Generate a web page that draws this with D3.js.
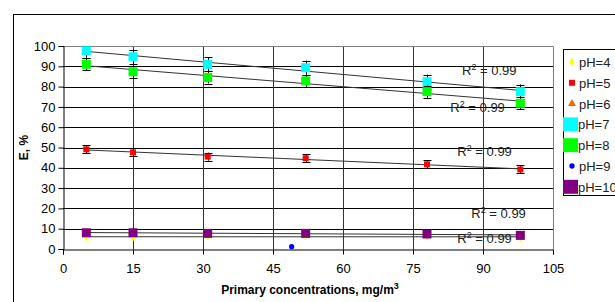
<!DOCTYPE html>
<meta charset="utf-8">
<title>E vs primary concentration</title>
<style>
body { margin: 0; background: #fff; }
svg { display: block; font-family: "Liberation Sans", Arial, sans-serif; }
.tick text { font-size: 13px; fill: #000; }
.lbl { font-size: 13px; fill: #222; }
</style>
<svg width="615" height="302"></svg>
<script src="https://cdn.jsdelivr.net/npm/d3@7/dist/d3.min.js"></script>
<script>

// concentrations (x) shared by all series
var conc = [5, 15, 31, 52, 78, 98];

// E, % for each pH
var ph4 = [5.8, 5.8, 6.3, 6.4, 6.2, 5.6];
var ph5 = [49.1, 47.6, 45.5, 44.7, 41.7, 39.2];
var ph6 = [7.9, 7.9, 7.6, 7.6, 7.3, 6.7];
var ph7 = [97.7, 94.7, 91.0, 89.3, 82.4, 77.5];
var ph8 = [91.0, 87.3, 84.5, 82.8, 77.5, 71.8];
var ph9x = [49];
var ph9 = [1.1];
var ph10 = [8.0, 8.0, 7.7, 7.7, 7.4, 6.7];

// error bar half-widths
var err5 = 2, err7 = 3.5, err8 = 3;

var xTicks = [0, 15, 30, 45, 60, 75, 90, 105];
var yTicks = [0, 10, 20, 30, 40, 50, 60, 70, 80, 90, 100];
var legendNames = ["pH=4", "pH=5", "pH=6", "pH=7", "pH=8", "pH=9", "pH=10"];
// where the R² labels sit, in data units
var r2Pos = [[85.5, 85.7], [83, 67.5], [84.5, 45.8], [87.5, 15.4], [84.5, 3]];

var svg = d3.select("svg");

var x = d3.scaleLinear().domain([0, 105]).range([63, 553]);
var y = d3.scaleLinear().domain([0, 100]).range([249, 46]);

// outer chart frame (runs off the page right and bottom)
svg.append("rect")
  .attr("x", 13.5).attr("y", 14.5)
  .attr("width", 700).attr("height", 400)
  .attr("fill", "none").attr("stroke", "#000");

// grid
svg.append("g").selectAll("line")
  .data(yTicks.slice(1))
  .enter().append("line")
  .attr("x1", x(0)).attr("x2", x(105))
  .attr("y1", function(d) { return Math.round(y(d)) + 0.5; })
  .attr("y2", function(d) { return Math.round(y(d)) + 0.5; })
  .attr("stroke", "#000");

svg.append("g").selectAll("line")
  .data(xTicks.slice(1, -1))
  .enter().append("line")
  .attr("x1", function(d) { return Math.round(x(d)) + 0.5; })
  .attr("x2", function(d) { return Math.round(x(d)) + 0.5; })
  .attr("y1", y(0)).attr("y2", y(100))
  .attr("stroke", "#333");

// plot border top and right (gray)
svg.append("path")
  .attr("d", "M" + (x(0)) + "," + (Math.round(y(100)) + 0.5) + "H" + (Math.round(x(105)) + 0.5) + "V" + y(0))
  .attr("fill", "none").attr("stroke", "#808080");

// axes
svg.append("g")
  .attr("transform", "translate(0," + (Math.round(y(0)) + 0.5) + ")")
  .call(d3.axisBottom(x).tickValues(xTicks).tickSize(5).tickPadding(9).tickFormat(d3.format("d")))
  .call(function(g) { g.selectAll("line,path").attr("stroke", "#000"); });

svg.append("g")
  .attr("transform", "translate(" + (Math.round(x(0)) + 0.5) + ",0)")
  .call(d3.axisLeft(y).tickValues(yTicks).tickSize(5).tickPadding(3).tickFormat(d3.format("d")))
  .call(function(g) { g.selectAll("line,path").attr("stroke", "#000"); });

svg.append("text")
  .attr("transform", "translate(28," + y(50) + ") rotate(-90)")
  .attr("text-anchor", "middle")
  .attr("font-size", 12).attr("font-weight", "bold")
  .text("E, %");

var xt = svg.append("text")
  .attr("x", 310).attr("y", 294)
  .attr("text-anchor", "middle")
  .attr("font-size", 12).attr("font-weight", "bold")
  .text("Primary concentrations, mg/m");
xt.append("tspan").attr("dy", -5).attr("font-size", 9).text("3");

// linear trendlines
function trend(xs, ys) {
  var mx = d3.mean(xs), my = d3.mean(ys);
  var sxy = d3.sum(xs, function(v, i) { return (v - mx) * (ys[i] - my); });
  var sxx = d3.sum(xs, function(v) { return (v - mx) * (v - mx); });
  var b = sxy / sxx, a = my - b * mx;
  var x0 = d3.min(xs), x1 = d3.max(xs);
  return [[x0, a + b * x0], [x1, a + b * x1]];
}
var line = d3.line().x(function(d) { return x(d[0]); }).y(function(d) { return y(d[1]); });
[ph7, ph8, ph5, ph10, ph4].forEach(function(s) {
  svg.append("path")
    .attr("d", line(trend(conc, s)))
    .attr("fill", "none").attr("stroke", "#333").attr("stroke-width", 1);
});

// error bars
function errbars(s, e) {
  var g = svg.append("g").attr("stroke", "#000");
  s.forEach(function(v, i) {
    var cx = Math.round(x(conc[i])) + 0.5;
    var top = Math.min(v + e, 100);
    g.append("line").attr("x1", cx).attr("x2", cx).attr("y1", y(top)).attr("y2", y(v - e));
    [top, v - e].forEach(function(t) {
      g.append("line").attr("x1", cx - 4).attr("x2", cx + 4).attr("y1", Math.round(y(t)) + 0.5).attr("y2", Math.round(y(t)) + 0.5);
    });
  });
}

// markers
var sym = {
  diamond: d3.symbol().type(d3.symbolDiamond).size(22),
  triangle: d3.symbol().type(d3.symbolTriangle).size(28),
  circle: d3.symbol().type(d3.symbolCircle).size(22)
};
function squares(xs, s, size, color) {
  svg.append("g").selectAll("rect")
    .data(s).enter().append("rect")
    .attr("x", function(d, i) { return x(xs[i]) - size / 2; })
    .attr("y", function(d) { return y(d) - size / 2; })
    .attr("width", size).attr("height", size)
    .attr("fill", color);
}
function symbols(xs, s, gen, color) {
  svg.append("g").selectAll("path")
    .data(s).enter().append("path")
    .attr("transform", function(d, i) { return "translate(" + x(xs[i]) + "," + y(d) + ")"; })
    .attr("d", gen)
    .attr("fill", color);
}

symbols(conc, ph4, sym.diamond, "#ffff00");
errbars(ph5, err5);
squares(conc, ph5, 6, "#ff0000");
symbols(conc, ph6, sym.triangle, "#ff6600");
errbars(ph7, err7);
squares(conc, ph7, 9, "#00ffff");
errbars(ph8, err8);
squares(conc, ph8, 9, "#00ff00");
symbols(ph9x, ph9, sym.circle, "#0000ff");
squares(conc, ph10, 9, "#800080");

// R² labels
svg.append("g").selectAll("text")
  .data(r2Pos).enter().append("text")
  .attr("class", "lbl")
  .attr("x", function(d) { return x(d[0]); })
  .attr("y", function(d) { return y(d[1]); })
  .text("R")
  .each(function() {
    d3.select(this).append("tspan").attr("dy", -5).attr("font-size", 9).text("2");
    d3.select(this).append("tspan").attr("dy", 5).text(" = 0.99");
  });

// legend
var leg = svg.append("g");
leg.append("rect")
  .attr("x", 563.5).attr("y", 49.5).attr("width", 70).attr("height", 146)
  .attr("fill", "#fff").attr("stroke", "#000");
var legMarks = [
  ["d", sym.diamond, "#ffff00"], ["s", 6, "#ff0000"], ["d", sym.triangle, "#ff6600"],
  ["s", 15, "#00ffff"], ["s", 15, "#00ff00"], ["d", sym.circle, "#0000ff"], ["s", 15, "#800080"]
];
legendNames.forEach(function(n, i) {
  var cy = 62 + i * 20.8;
  var m = legMarks[i];
  if (m[0] === "s") {
    if (m[1] > 10) {
      leg.append("rect").attr("x", 563).attr("y", cy - 7).attr("width", 15).attr("height", 14).attr("fill", m[2]);
    } else {
      leg.append("rect").attr("x", 569).attr("y", cy - 3).attr("width", 6).attr("height", 6).attr("fill", m[2]);
    }
  } else {
    leg.append("path").attr("transform", "translate(572," + cy + ")").attr("d", m[1]).attr("fill", m[2]);
  }
  leg.append("text").attr("class", "lbl").attr("x", m[1] > 10 ? 578 : 579).attr("y", cy + 5).attr("fill", "#000").text(n);
});

</script>
